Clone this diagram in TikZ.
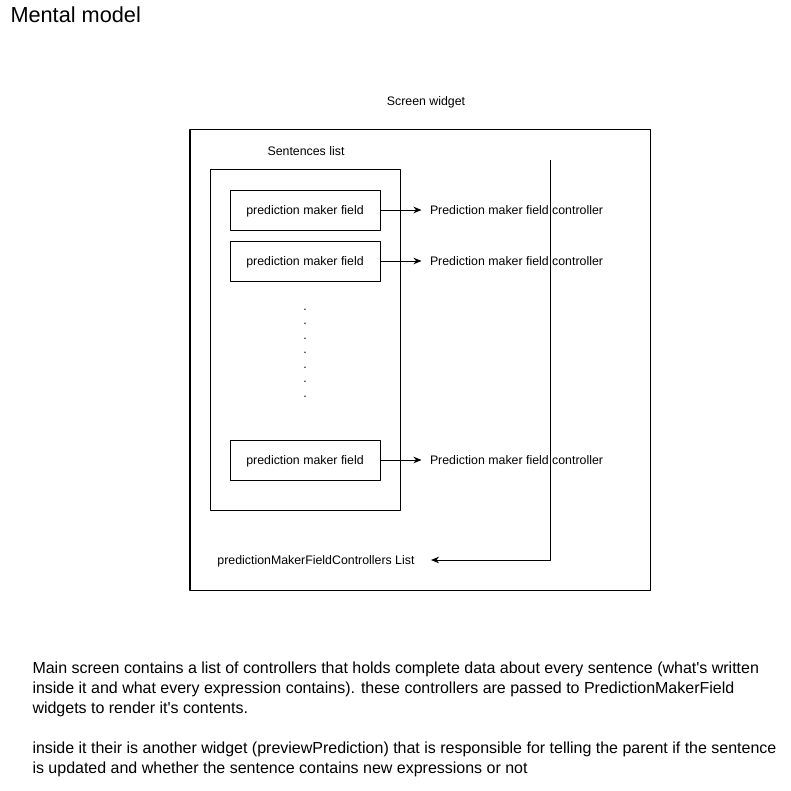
\documentclass[tikz,border=0pt]{standalone}
\usepackage{fontspec}
\setmainfont{Liberation Sans}
\usetikzlibrary{arrows.meta, positioning}

\begin{document}
\begin{tikzpicture}[>={Stealth[length=8bp,width=6.5bp,inset=2.5bp]},line join=bevel,x=1bp,y=-1bp,
  box/.style={draw, inner sep=0pt, text depth=0pt, font=\fontsize{12.4}{14}\selectfont},
  lbl/.style={inner sep=0pt, font=\fontsize{12.4}{14}\selectfont}]
  \pgfsetlinewidth{1bp}
  \useasboundingbox (0,0) rectangle (791,791);
%%
\pgfsetcolor{black}
  % Node: title
  \node[anchor=base west, inner sep=0pt, font=\fontsize{21.8}{26}\selectfont] (title) at (10,23) {Mental model};
  % Node: screen
  \node[box, minimum width=460bp, minimum height=460bp] (screen) at (420,360) {};
  \node[lbl, anchor=base] (screenlbl) at (426,105) {Screen widget};
  % Node: sentences
  \node[box, minimum width=190bp, minimum height=340bp] (sentences) at (305,340) {};
  \node[lbl, anchor=base] (sentenceslbl) at (306,155) {Sentences list};
  % Node: fields
  \node[box, minimum width=150bp, minimum height=40bp] (field1) at (305,210) {prediction maker field};
  \node[box, minimum width=150bp, minimum height=40bp, below=10bp of field1] (field2) {prediction maker field};
  \node[box, minimum width=150bp, minimum height=40bp] (field3) at (305,460) {prediction maker field};
  % Node: dots
  \foreach \i in {0,...,6}
    \node[lbl, anchor=base] (dot\i) at (305,{310+14.5*\i}) {.};
  % Node: controllers
  \node[lbl, anchor=west, inner xsep=8bp, right=41bp of field1] (ctrl1) {Prediction maker field controller};
  \node[lbl, anchor=west, inner xsep=8bp, right=41bp of field2] (ctrl2) {Prediction maker field controller};
  \node[lbl, anchor=west, inner xsep=8bp, right=41bp of field3] (ctrl3) {Prediction maker field controller};
  % Node: list
  \node[lbl, anchor=east, inner xsep=16bp, text depth=0pt] (list) at (431,560) {predictionMakerFieldControllers List};
  \coordinate (bustop) at (550,160);
  % Edge: field -- controller
  \draw [->] (field1) -- (ctrl1);
  \draw [->] (field2) -- (ctrl2);
  \draw [->] (field3) -- (ctrl3);
  % Edge: bus -- list
  \draw [->] (bustop) |- (list);
  % Node: notes
  \node[anchor=north west, inner sep=0pt, align=left, font=\fontsize{16.05}{20}\selectfont] (notes) at (32,661.4) {Main screen contains a list of controllers that holds complete data about every sentence (what\textquotesingle s written\\inside it and what every expression contains). these controllers are passed to PredictionMakerField\\widgets to render it\textquotesingle s contents.\\[20bp]inside it their is another widget (previewPrediction) that is responsible for telling the parent if the sentence\\is updated and whether the sentence contains new expressions or not};
%
\end{tikzpicture}
\end{document}
